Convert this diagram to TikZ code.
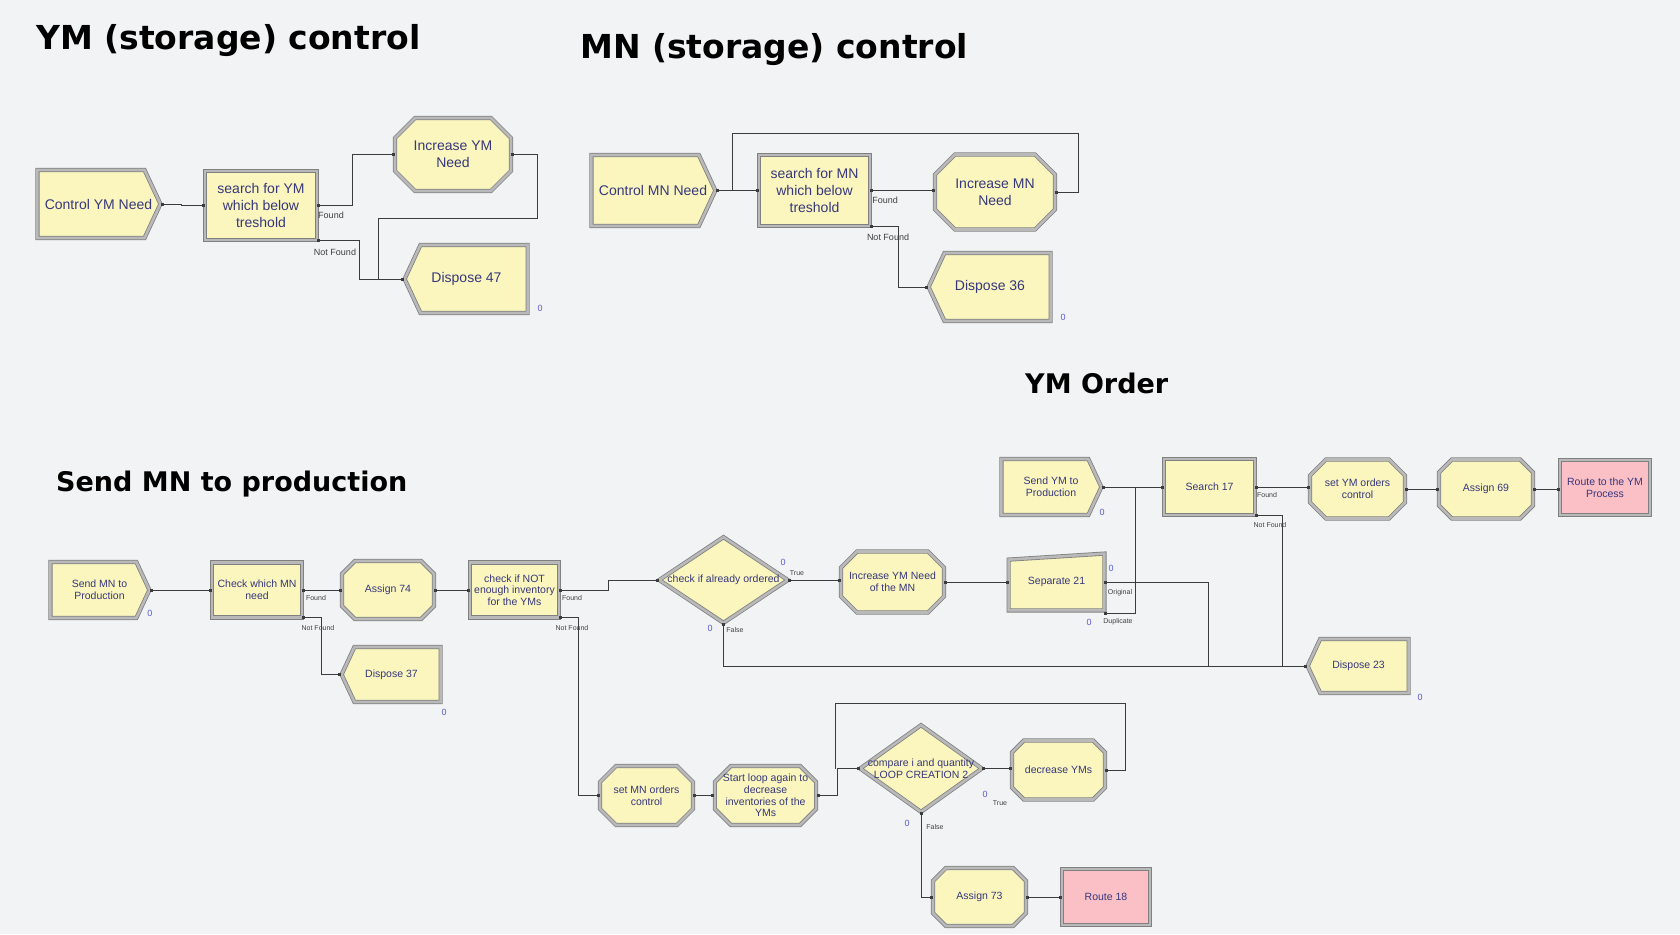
\documentclass[tikz,border=0pt]{standalone}
\usepackage{fontspec}
\setmainfont{Liberation Sans}
\newfontfamily\titlefont{DejaVu Sans}
\usetikzlibrary{arrows.meta, positioning, shapes.geometric, shapes.misc, shapes.symbols, backgrounds}

\definecolor{bgcol}{RGB}{242,243,244}
\definecolor{modfill}{RGB}{250,246,190}
\definecolor{modline}{RGB}{128,128,128}
\definecolor{modband}{RGB}{185,185,185}
\definecolor{modtext}{RGB}{55,55,125}
\definecolor{routefill}{RGB}{250,192,198}
\definecolor{cntblue}{RGB}{90,90,220}
\definecolor{linkcol}{RGB}{60,60,60}

\newcommand{\bigtxt}{\fontsize{14}{17}\selectfont}
\newcommand{\smalltxt}{\fontsize{10.5}{11.7}\selectfont}

\tikzset{
  module/.style={draw=modline, double=modband, double distance=2.6pt, line width=0.8pt,
    fill=modfill, text=modtext, inner sep=0pt, align=center},
  sz/.style 2 args={minimum width=#1pt, minimum height=#2pt},
  createmod/.style={module, signal, signal to=east, signal pointer angle=130},
  disposemod/.style={module, signal, signal to=west, signal pointer angle=130},
  searchmod/.style={module, rectangle},
  assignmod/.style={module, chamfered rectangle, chamfered rectangle xsep=#1pt, chamfered rectangle ysep=#1pt},
  assignmod/.default=8,
  decidemod/.style={module, diamond},
  routemod/.style={module, rectangle, fill=routefill},
  modlabel/.style={text=modtext, align=center, inner sep=0pt},
  link/.style={draw=linkcol, line width=1pt, {Square[length=3pt,width=3pt]}-{Square[length=3pt,width=3pt]}},
  linkj/.style={draw=linkcol, line width=1pt, {Square[length=3pt,width=3pt]}-},
  exitlbl/.style={font=\fontsize{9}{9}\selectfont, text=black!75, inner sep=0pt},
  exitlbls/.style={font=\fontsize{7}{7}\selectfont, text=black!75, inner sep=0pt},
  cnt/.style={font=\fontsize{9}{9}\selectfont, text=cntblue, inner sep=0pt},
  grouptitle/.style={font=\titlefont\bfseries\fontsize{#1}{#1}\selectfont, anchor=base west, inner sep=0pt},
}

\begin{document}
\begin{tikzpicture}[x=1pt, y=-1pt]
\begin{pgfonlayer}{background}
  \fill[bgcol] (0,0) rectangle (1680,934);
\end{pgfonlayer}
\useasboundingbox (0,0) rectangle (1680,934);

% group titles
\node[grouptitle=33] (tymsc) at (36,49) {YM (storage) control};
\node[grouptitle=33] (tmnsc) at (580,59) {MN (storage) control};
\node[grouptitle=27] (tymo) at (1025,393) {YM Order};
\node[grouptitle=27] (tsmp) at (56,491) {Send MN to production};

% YM (storage) control
\node[createmod, sz={123}{68}, anchor=west] (cymn) at (37,204) {};
\node[modlabel, font=\bigtxt] (cymnt) at (98.5,204) {Control YM Need};
\node[searchmod, sz={112}{69}, font=\bigtxt] (sym) at (261,205.5) {search for YM\\which below\\treshold};
\node[assignmod=10, sz={116}{73}, font=\bigtxt] (iymn) at (453,154.5) {Increase YM\\Need};
\node[disposemod, sz={123}{68}, anchor=east] (d47) at (528,279) {};
\node[modlabel, font=\bigtxt] (d47t) at (466.5,279) {Dispose 47};
\coordinate (j47) at (378,279);
\draw[link] (cymn.east) -- ++(21,0) |- (sym.west);
\draw[link] (sym.east) -- ++(35,0) |- (iymn.west);
\draw[link] (sym.south east) -- ++(42,0) |- (d47.west);
\draw[linkj] (iymn.east) -- ++(26,0) -- ++(0,64) -| (j47);
\node[exitlbl] (fym) at (331,215) {Found};
\node[exitlbl] (nfym) at (335,252) {Not Found};
\node[cnt] (c47) at (540,308) {0};

% MN (storage) control
\node[createmod, sz={124}{71}, anchor=west] (cmnn) at (591,190.5) {};
\node[modlabel, font=\bigtxt] (cmnnt) at (653,190.5) {Control MN Need};
\node[searchmod, sz={111}{71}, font=\bigtxt] (smn) at (814.5,190.5) {search for MN\\which below\\treshold};
\node[assignmod=10, sz={120}{75}, font=\bigtxt] (imnn) at (995,192) {Increase MN\\Need};
\node[disposemod, sz={122}{68}, anchor=east] (d36) at (1051,287) {};
\node[modlabel, font=\bigtxt] (d36t) at (990,287) {Dispose 36};
\coordinate (jmn) at (732,190.5);
\draw[link] (cmnn.east) -- (smn.west);
\draw[link] (smn.east) -- (imnn.west |- smn.east);
\draw[link] (smn.south east) -- ++(28,0) |- (d36.west);
\draw[linkj] (imnn.east) -- ++(23,0) -- ++(0,-59) -| (jmn);
\node[exitlbl] (fmn) at (885,200) {Found};
\node[exitlbl] (nfmn) at (888,237) {Not Found};
\node[cnt] (c36) at (1063,317) {0};

% YM Order
\node[createmod, sz={100}{56}, anchor=west] (symp) at (1001,487) {};
\node[modlabel, font=\smalltxt] (sympt) at (1051,487) {Send YM to\\Production};
\node[searchmod, sz={91}{56}, font=\smalltxt] (s17) at (1209.5,487) {Search 17};
\node[assignmod, sz={95}{59}, font=\smalltxt] (symo) at (1357.5,489) {set YM orders\\control};
\node[assignmod, sz={94}{59}, font=\smalltxt] (a69) at (1486,489) {Assign 69};
\node[routemod, sz={90}{55}, font=\smalltxt] (rymp) at (1605,487.5) {Route to the YM\\Process};
\node[searchmod, draw=none, fill=none, sz={95}{56}, font=\smalltxt] (sep21) at (1056.5,582) {Separate 21};
\begin{pgfonlayer}{background}
  \draw[module] (sep21.south west) -- (sep21.south east) -- (sep21.north east)
    -- ([yshift=-6pt]sep21.north west) -- cycle;
\end{pgfonlayer}
\node[disposemod, sz={101}{54}, anchor=east] (d23) at (1409,666) {};
\node[modlabel, font=\smalltxt] (d23t) at (1358.5,666) {Dispose 23};
\coordinate (jsy) at (1135,487);
\coordinate (jorg) at (1208,666);
\coordinate (jnf17) at (1282,666);
\draw[link] (symp.east) -- (s17.west);
\draw[linkj] ([yshift=-3pt]sep21.south east) -| (jsy);
\draw[linkj] (sep21.east) -| (jorg);
\draw[link] (s17.east) -- (symo.west |- s17.east);
\draw[linkj] (s17.south east) -| (jnf17);
\draw[link] (symo.east) -- (a69.west);
\draw[link] (a69.east) -- (rymp.west |- a69.east);
\node[exitlbls] (f17) at (1267,495) {Found};
\node[exitlbls] (nf17) at (1270,525) {Not Found};
\node[exitlbls] (org21) at (1120,593) {Original};
\node[exitlbls] (dup21) at (1118,622) {Duplicate};
\node[cnt] (csymp) at (1102,512) {0};
\node[cnt] (csep1) at (1111,568) {0};
\node[cnt] (csep2) at (1089,622) {0};
\node[cnt] (c23) at (1420,697) {0};

% Send MN to production
\node[createmod, sz={99}{56}, anchor=west] (smnp) at (50,590) {};
\node[modlabel, font=\smalltxt] (smnpt) at (99.5,590) {Send MN to\\Production};
\node[searchmod, sz={90}{55}, font=\smalltxt] (cwmn) at (257,590) {Check which MN\\need};
\node[assignmod, sz={92}{58}, font=\smalltxt] (a74) at (388,590) {Assign 74};
\node[searchmod, sz={89}{55}, font=\smalltxt] (cne) at (514.5,590) {check if NOT\\enough inventory\\for the YMs};
\node[disposemod, sz={99}{55}, anchor=east] (d37) at (441,674.5) {};
\node[modlabel, font=\smalltxt] (d37t) at (391.5,674.5) {Dispose 37};
\node[decidemod, sz={129}{86}] (dao) at (723.5,580) {};
\node[modlabel, font=\smalltxt] (daot) at (dao) {check if already ordered};
\node[assignmod, sz={95}{61}, font=\smalltxt] (iymm) at (892.5,582) {Increase YM Need\\of the MN};
\node[assignmod, sz={93}{59}, font=\smalltxt] (smoc) at (646.5,795.5) {set MN orders\\control};
\node[assignmod, sz={93}{59}, font=\smalltxt] (sla) at (765.5,795.5) {Start loop again to\\decrease\\inventories of the\\YMs};
\node[decidemod, sz={122}{87}] (cmp) at (921,768.5) {};
\node[modlabel, font=\smalltxt] (cmpt) at (cmp) {compare i and quantity\\LOOP CREATION 2};
\node[assignmod, sz={93}{59}, font=\smalltxt] (dym) at (1058.5,770) {decrease YMs};
\node[assignmod, sz={93}{58}, font=\smalltxt] (a73) at (979.5,897) {Assign 73};
\node[routemod, sz={88}{56}, font=\smalltxt] (r18) at (1106,897) {Route 18};
\coordinate (jcmp) at (835,768.5);
\draw[link] (smnp.east) -- (cwmn.west);
\draw[link] (cwmn.east) -- (a74.west);
\draw[link] (cwmn.south east) -- ++(19,0) |- (d37.west);
\draw[link] (a74.east) -- (cne.west);
\draw[link] (cne.east) -- ++(49,0) |- (dao.west);
\draw[link] (cne.south east) -- ++(19,0) |- (smoc.west);
\draw[link] (dao.east) -- (iymm.west |- dao.east);
\draw[link] (dao.south) |- (d23.west);
\draw[link] (iymm.east) -- (sep21.west);
\draw[link] (smoc.east) -- (sla.west);
\draw[link] (sla.east) -- ++(21,0) |- (cmp.west);
\draw[linkj] (dym.east) -- ++(20,0) -- ++(0,-67) -| (jcmp);
\draw[link] (cmp.east) -- (dym.west |- cmp.east);
\draw[link] (cmp.south) |- (a73.west);
\draw[link] (a73.east) -- (r18.west);
\node[exitlbls] (fcw) at (316,598) {Found};
\node[exitlbls] (nfcw) at (318,628) {Not Found};
\node[exitlbls] (fcne) at (572,598) {Found};
\node[exitlbls] (nfcne) at (572,628) {Not Found};
\node[exitlbls] (tdao) at (797,573) {True};
\node[exitlbls] (fdao) at (735,630) {False};
\node[exitlbls] (tcmp) at (1000,803) {True};
\node[exitlbls] (fcmp) at (935,827) {False};
\node[cnt] (csmnp) at (150,613) {0};
\node[cnt] (c37) at (444,712) {0};
\node[cnt] (cdao1) at (783,562) {0};
\node[cnt] (cdao2) at (710,628) {0};
\node[cnt] (ccmp1) at (985,794) {0};
\node[cnt] (ccmp2) at (907,823) {0};
\end{tikzpicture}
\end{document}
